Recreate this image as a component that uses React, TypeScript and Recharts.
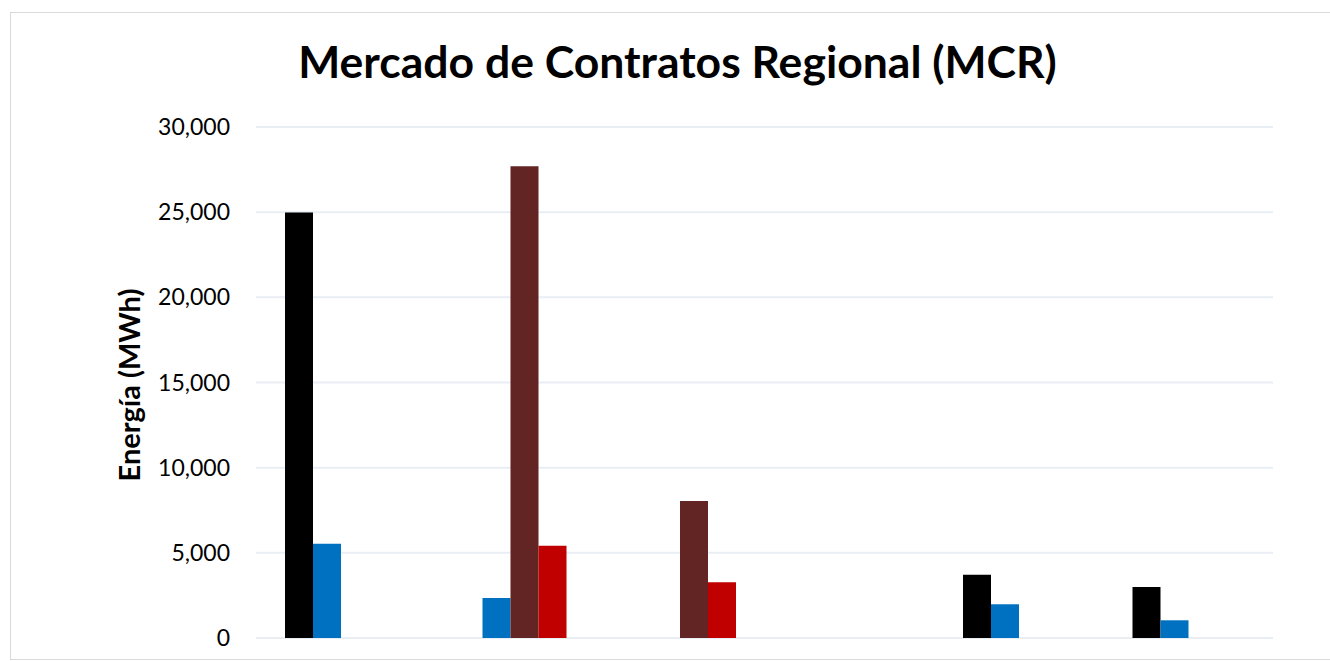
import { Bar, BarChart, CartesianGrid, XAxis, YAxis } from "recharts"

const categories = ["1", "2", "3", "4", "5", "6"]
const blackSeries = [24980, null, null, null, 3720, 2990]
const blueSeries = [5540, 2350, null, null, 1980, 1040]
const brownSeries = [null, 27690, 8040, null, null, null]
const redSeries = [null, 5420, 3270, null, null, null]
const yTicks = [0, 5000, 10000, 15000, 20000, 25000, 30000]

const data = categories.map((c, i) => ({
  name: c,
  black: blackSeries[i],
  blue: blueSeries[i],
  brown: brownSeries[i],
  red: redSeries[i],
}))

const fmt = (v: number) => v.toLocaleString("en-US")

export default function App() {
  return (
    <div style={{ position: "absolute", left: 0, top: 0, width: 1330, height: 661, background: "#fff", fontFamily: "Lato" }}>
      <div
        style={{
          position: "absolute",
          left: 10,
          top: 12,
          width: 1340,
          height: 646,
          border: "1px solid #D9D9D9",
        }}
      />
      <div
        style={{
          position: "absolute",
          left: 0,
          width: 1355,
          top: 34,
          textAlign: "center",
          fontSize: 44.5,
          fontWeight: 700,
          color: "#000",
        }}
      >
        Mercado de Contratos Regional (MCR)
      </div>
      <div
        style={{
          position: "absolute",
          left: 128,
          top: 385,
          transform: "translate(-50%, -50%) rotate(-90deg)",
          whiteSpace: "nowrap",
          fontSize: 29,
          fontWeight: 700,
          color: "#000",
        }}
      >
        Energía (MWh)
      </div>
      <div style={{ position: "absolute", left: 0, top: 0 }}>
        <BarChart
          width={1330}
          height={661}
          data={data}
          margin={{ top: 127, right: 57, left: 0, bottom: 23 }}
          barGap={0}
          barSize={28}
        >
          <CartesianGrid vertical={false} stroke="#E9EEF5" strokeWidth={2} />
          <XAxis dataKey="name" hide />
          <YAxis
            width={256}
            domain={[0, 30000]}
            ticks={yTicks}
            tickFormatter={fmt}
            axisLine={false}
            tickLine={false}
            tickSize={0}
            tickMargin={26}
            tick={{ fill: "#000", fontSize: 23, fontFamily: "Lato" }}
          />
          <Bar dataKey="black" fill="#000000" isAnimationActive={false} />
          <Bar dataKey="blue" fill="#0070C0" isAnimationActive={false} />
          <Bar dataKey="brown" fill="#632523" isAnimationActive={false} />
          <Bar dataKey="red" fill="#C00000" isAnimationActive={false} />
        </BarChart>
      </div>
    </div>
  )
}
